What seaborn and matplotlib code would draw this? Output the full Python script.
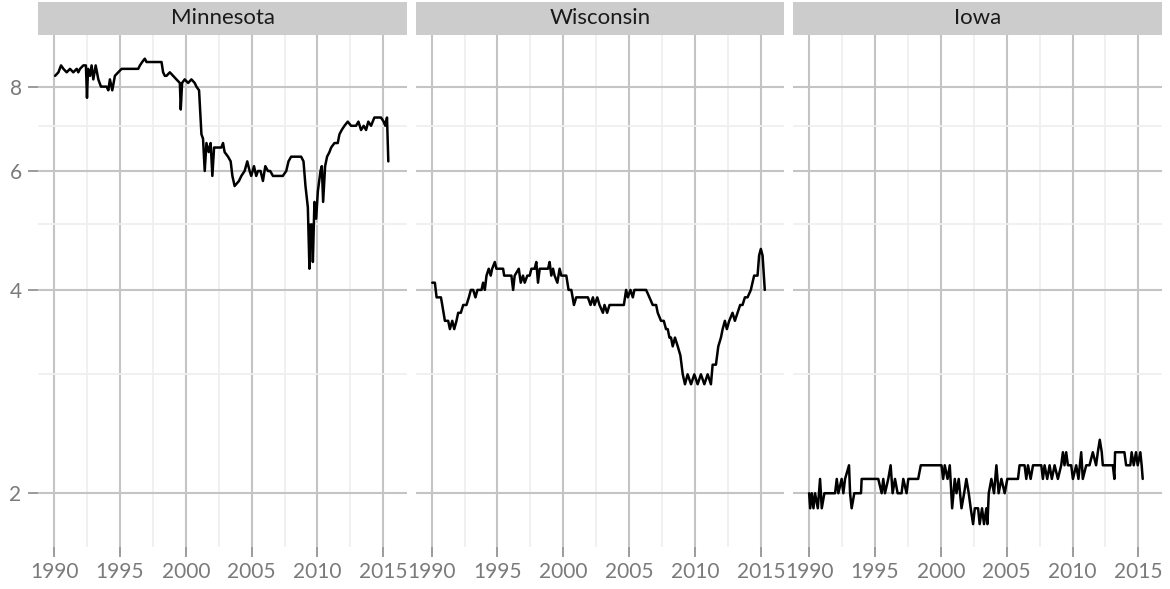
import matplotlib
matplotlib.use("Agg")
import matplotlib.pyplot as plt
from matplotlib.patches import Rectangle
import pandas as pd
import seaborn as sns

# values (log-scaled y)
states = ["Minnesota", "Wisconsin", "Iowa"]

mn_year = [1990.08, 1990.33, 1990.53, 1990.71, 1990.96, 1991.21, 1991.46, 1991.72, 1991.84, 1991.97,
           1992.22, 1992.42, 1992.5, 1992.58, 1992.73, 1992.85, 1992.98, 1993.16, 1993.36, 1993.56,
           1993.99, 1994.12, 1994.24, 1994.42, 1994.62, 1994.87, 1995.13, 1996.39, 1996.52, 1996.69,
           1996.89, 1997.02, 1998.16, 1998.28, 1998.41, 1998.54, 1998.79, 1999.04, 1999.29, 1999.55,
           1999.62, 1999.72, 1999.92, 2000.18, 2000.43, 2000.68, 2000.81, 2001.01, 2001.19, 2001.31,
           2001.44, 2001.57, 2001.74, 2001.89, 2002.02, 2002.15, 2002.7, 2002.83, 2002.95, 2003.21,
           2003.41, 2003.54, 2003.71, 2004.04, 2004.22, 2004.47, 2004.67, 2004.85, 2004.97, 2005.18,
           2005.35, 2005.48, 2005.68, 2005.86, 2006.04, 2006.24, 2006.41, 2006.62, 2007.0, 2007.37,
           2007.63, 2007.8, 2008.0, 2008.76, 2008.94, 2009.09, 2009.27, 2009.39, 2009.47, 2009.57,
           2009.65, 2009.77, 2009.9, 2010.03, 2010.23, 2010.33, 2010.43, 2010.58, 2010.73, 2010.91,
           2011.04, 2011.29, 2011.54, 2011.67, 2011.84, 2012.05, 2012.3, 2012.55, 2012.93, 2013.11,
           2013.31, 2013.51, 2013.69, 2013.86, 2014.07, 2014.32, 2014.82, 2015.03, 2015.15, 2015.28,
           2015.38]
mn_rate = [8.3, 8.4, 8.6, 8.5, 8.4, 8.5, 8.4, 8.5, 8.4, 8.5,
           8.6, 8.6, 7.7, 8.5, 8.3, 8.6, 8.2, 8.6, 8.2, 8.0,
           8.0, 7.9, 8.2, 7.9, 8.3, 8.4, 8.5, 8.5, 8.6, 8.7,
           8.8, 8.7, 8.7, 8.4, 8.3, 8.3, 8.4, 8.3, 8.2, 8.1,
           7.4, 8.1, 8.2, 8.1, 8.2, 8.1, 8.0, 7.9, 6.8, 6.7,
           6.0, 6.6, 6.4, 6.6, 5.9, 6.5, 6.5, 6.6, 6.4, 6.3,
           6.2, 5.9, 5.7, 5.8, 5.9, 6.0, 6.2, 6.0, 5.9, 6.1,
           5.9, 6.0, 6.0, 5.8, 6.1, 6.0, 6.0, 5.9, 5.9, 5.9,
           6.0, 6.2, 6.3, 6.3, 6.2, 5.7, 5.3, 4.3, 5.0, 5.0,
           4.4, 5.4, 5.1, 5.6, 6.0, 6.1, 5.4, 6.1, 6.3, 6.4,
           6.5, 6.6, 6.6, 6.8, 6.9, 7.0, 7.1, 7.0, 7.0, 7.1,
           6.9, 7.0, 6.9, 7.1, 7.0, 7.2, 7.2, 7.1, 7.0, 7.2,
           6.2]

wi_year = [1990.05, 1990.25, 1990.38, 1990.56, 1990.71, 1990.81, 1991.01, 1991.26, 1991.39, 1991.57,
           1991.72, 1991.89, 1992.02, 1992.22, 1992.4, 1992.65, 1992.83, 1992.98, 1993.16, 1993.33,
           1993.48, 1993.79, 1993.91, 1994.04, 1994.17, 1994.34, 1994.49, 1994.6, 1994.8, 1994.92,
           1995.05, 1995.43, 1995.51, 1996.06, 1996.19, 1996.31, 1996.62, 1996.77, 1996.94, 1997.07,
           1997.27, 1997.45, 1997.58, 1997.83, 1997.95, 1998.08, 1998.21, 1998.84, 1998.96, 1999.09,
           1999.22, 1999.34, 1999.55, 1999.72, 1999.85, 2000.23, 2000.4, 2000.61, 2000.81, 2000.98,
           2001.87, 2002.07, 2002.25, 2002.37, 2002.58, 2002.75, 2003.01, 2003.13, 2003.33, 2003.51,
           2003.76, 2004.6, 2004.77, 2004.9, 2005.1, 2005.28, 2005.4, 2006.29, 2006.54, 2006.79,
           2007.05, 2007.17, 2007.42, 2007.63, 2007.8, 2007.93, 2008.06, 2008.18, 2008.31, 2008.48,
           2008.69, 2008.89, 2009.07, 2009.24, 2009.44, 2009.7, 2009.95, 2010.2, 2010.45, 2010.71,
           2010.96, 2011.21, 2011.34, 2011.59, 2011.77, 2011.97, 2012.1, 2012.27, 2012.42, 2012.6,
           2012.85, 2013.03, 2013.23, 2013.43, 2013.61, 2013.79, 2013.99, 2014.24, 2014.49, 2014.75,
           2014.87, 2015.0, 2015.13, 2015.3]
wi_rate = [4.1, 4.1, 3.9, 3.9, 3.9, 3.8, 3.6, 3.6, 3.5, 3.6,
           3.5, 3.6, 3.7, 3.7, 3.8, 3.8, 3.9, 4.0, 4.0, 3.9,
           4.0, 4.0, 4.1, 4.0, 4.2, 4.3, 4.2, 4.3, 4.4, 4.3,
           4.3, 4.3, 4.2, 4.2, 4.0, 4.2, 4.3, 4.1, 4.2, 4.1,
           4.2, 4.2, 4.3, 4.3, 4.4, 4.1, 4.3, 4.3, 4.4, 4.2,
           4.3, 4.2, 4.1, 4.3, 4.2, 4.2, 4.0, 4.0, 3.8, 3.9,
           3.9, 3.8, 3.9, 3.8, 3.9, 3.8, 3.7, 3.8, 3.7, 3.8,
           3.8, 3.8, 4.0, 3.9, 4.0, 3.9, 4.0, 4.0, 3.9, 3.8,
           3.8, 3.7, 3.6, 3.6, 3.5, 3.5, 3.4, 3.4, 3.3, 3.4,
           3.3, 3.2, 3.0, 2.9, 3.0, 2.9, 3.0, 2.9, 3.0, 2.9,
           3.0, 2.9, 3.1, 3.1, 3.3, 3.4, 3.5, 3.6, 3.5, 3.6,
           3.7, 3.6, 3.7, 3.8, 3.8, 3.9, 3.9, 4.0, 4.2, 4.2,
           4.5, 4.6, 4.5, 4.0]

ia_year = [1990.0, 1990.08, 1990.2, 1990.33, 1990.45, 1990.66, 1990.83, 1990.96, 1991.16, 1991.97,
           1992.1, 1992.22, 1992.47, 1992.6, 1992.73, 1993.03, 1993.11, 1993.23, 1993.43, 1993.94,
           1993.99, 1995.25, 1995.51, 1995.63, 1995.76, 1996.01, 1996.19, 1996.34, 1996.52, 1996.72,
           1997.02, 1997.15, 1997.4, 1997.53, 1998.28, 1998.48, 2000.05, 2000.18, 2000.3, 2000.51,
           2000.68, 2000.86, 2001.06, 2001.19, 2001.36, 2001.57, 2001.77, 2001.94, 2002.12, 2002.27,
           2002.45, 2002.58, 2002.83, 2002.95, 2003.13, 2003.28, 2003.46, 2003.54, 2003.64, 2003.84,
           2004.04, 2004.22, 2004.39, 2004.6, 2004.85, 2005.05, 2005.86, 2005.98, 2006.36, 2006.49,
           2006.62, 2006.82, 2007.0, 2007.63, 2007.75, 2007.88, 2008.08, 2008.26, 2008.43, 2008.64,
           2008.89, 2009.14, 2009.27, 2009.39, 2009.52, 2009.65, 2009.9, 2010.03, 2010.28, 2010.45,
           2010.66, 2010.78, 2011.04, 2011.29, 2011.54, 2011.79, 2011.92, 2012.07, 2012.22, 2012.3,
           2013.06, 2013.18, 2013.23, 2013.94, 2014.07, 2014.39, 2014.49, 2014.65, 2014.82, 2014.95,
           2015.15, 2015.25, 2015.33]
ia_rate = [2.0, 1.9, 2.0, 1.9, 2.0, 1.9, 2.1, 1.9, 2.0, 2.0,
           2.1, 2.0, 2.1, 2.0, 2.1, 2.2, 2.0, 1.9, 2.0, 2.0,
           2.1, 2.1, 2.0, 2.1, 2.0, 2.1, 2.2, 2.0, 2.1, 2.0,
           2.0, 2.1, 2.0, 2.1, 2.1, 2.2, 2.2, 2.1, 2.2, 2.1,
           2.2, 1.9, 2.1, 2.0, 2.1, 1.9, 2.0, 2.1, 2.0, 1.9,
           1.8, 1.9, 1.9, 1.8, 1.9, 1.8, 1.9, 1.8, 2.0, 2.1,
           2.0, 2.2, 2.0, 2.1, 2.0, 2.1, 2.1, 2.2, 2.2, 2.1,
           2.2, 2.1, 2.2, 2.2, 2.1, 2.2, 2.1, 2.2, 2.1, 2.2,
           2.1, 2.2, 2.3, 2.2, 2.3, 2.2, 2.2, 2.1, 2.2, 2.1,
           2.3, 2.1, 2.2, 2.2, 2.3, 2.2, 2.3, 2.4, 2.3, 2.2,
           2.2, 2.1, 2.3, 2.3, 2.2, 2.2, 2.3, 2.2, 2.3, 2.2,
           2.3, 2.2, 2.1]

y_major = [2, 4, 6, 8]
y_minor = [3, 5, 7]
x_major = [1990, 1995, 2000, 2005, 2010, 2015]
x_minor = [1992.5, 1997.5, 2002.5, 2007.5, 2012.5]

df = pd.concat([
    pd.DataFrame({"state": "Minnesota", "year": mn_year, "rate": mn_rate}),
    pd.DataFrame({"state": "Wisconsin", "year": wi_year, "rate": wi_rate}),
    pd.DataFrame({"state": "Iowa", "year": ia_year, "rate": ia_rate}),
])

sns.set_theme(style="white")
plt.rcParams["font.family"] = ["Lato", "DejaVu Sans"]

g = sns.relplot(data=df, x="year", y="rate", col="state", col_order=states,
                kind="line", color="black", linewidth=1.8, estimator=None,
                height=5.89, aspect=0.66, facet_kws={"sharey": True, "sharex": True})
g.figure.set_size_inches(11.7, 5.89)
g.figure.subplots_adjust(left=0.0327, right=0.993, top=0.9406, bottom=0.0713, wspace=0.0245)

grid_major = "#c4c4c4"
grid_minor = "#efefef"
tick_col = "#8a8a8a"
label_col = "#7a7a7a"

for i, (ax, name) in enumerate(zip(g.axes.flat, states)):
    ax.set_yscale("log")
    ax.set_xlim(1988.8, 2016.78)
    ax.set_ylim(1.665, 9.54)
    ax.set_yticks(y_major)
    ax.set_yticks(y_minor, minor=True)
    ax.set_yticklabels([str(v) for v in y_major])
    ax.set_yticklabels([], minor=True)
    ax.set_xticks(x_major)
    ax.set_xticks(x_minor, minor=True)
    ax.set_xticklabels([str(v) for v in x_major])
    ax.grid(which="major", color=grid_major, linewidth=1.5)
    ax.grid(which="minor", color=grid_minor, linewidth=1.3)
    ax.set_axisbelow(True)
    for sp in ax.spines.values():
        sp.set_visible(False)
    ax.tick_params(which="major", axis="both", length=7, width=1.2, color=tick_col,
                   labelcolor=label_col, labelsize=15, pad=4)
    ax.tick_params(which="minor", length=0)
    ax.tick_params(axis="y", left=(i == 0), labelleft=(i == 0), pad=5)
    ax.tick_params(axis="x", bottom=True)
    ax.set_xlabel("")
    ax.set_ylabel("")
    ax.set_title("")
    # grey strip on top of each panel
    ax.add_patch(Rectangle((0, 1.0), 1, 33 / 512, transform=ax.transAxes,
                           facecolor="#cccccc", edgecolor="none", clip_on=False))
    ax.text(0.5, 1.0 + 16.5 / 512, name, transform=ax.transAxes, ha="center", va="center",
            fontsize=16, color="#1a1a1a")

g.figure.savefig("out.png", dpi=100)
